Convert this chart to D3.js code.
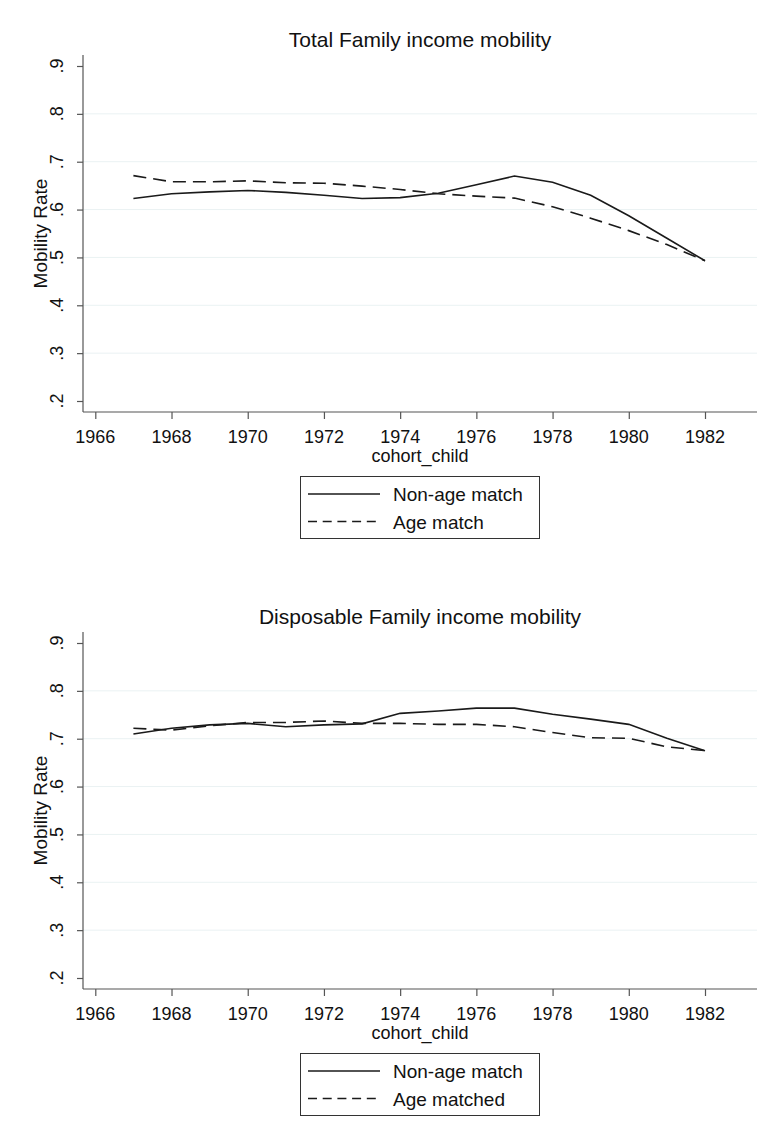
<!DOCTYPE html>
<html>
<head>
<meta charset="utf-8">
<script src="https://cdn.jsdelivr.net/npm/d3@7/dist/d3.min.js"></script>
<style>
  html, body { margin: 0; padding: 0; background: #fff; }
  svg { display: block; font-family: "Liberation Sans", Arial, sans-serif; }
</style>
</head>
<body>
<svg id="chart" width="764" height="1138"></svg>
<script>
// ---- Data ----
const years = [1967, 1968, 1969, 1970, 1971, 1972, 1973, 1974, 1975, 1976, 1977, 1978, 1979, 1980, 1981, 1982];
const totalNonAge = [0.623, 0.633, 0.637, 0.640, 0.636, 0.630, 0.623, 0.625, 0.634, 0.652, 0.670, 0.657, 0.630, 0.587, 0.540, 0.493];
const totalAge    = [0.671, 0.658, 0.658, 0.660, 0.656, 0.655, 0.649, 0.642, 0.633, 0.628, 0.624, 0.606, 0.582, 0.556, 0.527, 0.493];
const dispNonAge  = [0.710, 0.722, 0.729, 0.732, 0.725, 0.729, 0.731, 0.753, 0.758, 0.764, 0.764, 0.751, 0.741, 0.730, 0.701, 0.675];
const dispAge     = [0.722, 0.718, 0.727, 0.734, 0.734, 0.737, 0.732, 0.732, 0.730, 0.730, 0.725, 0.713, 0.702, 0.701, 0.683, 0.675];
const xTicks = [1966, 1968, 1970, 1972, 1974, 1976, 1978, 1980, 1982];
const yTicks = [0.2, 0.3, 0.4, 0.5, 0.6, 0.7, 0.8, 0.9];
const gridTicks = [0.3, 0.4, 0.5, 0.6, 0.7, 0.8];
const titles = ["Total Family income mobility", "Disposable Family income mobility"];
const legendTop = ["Non-age match", "Age match"];
const legendBottom = ["Non-age match", "Age matched"];
const yLabel = "Mobility Rate";
const xLabel = "cohort_child";

// ---- Drawing ----
const svg = d3.select("#chart");
const fmtY = v => d3.format(".1f")(v).replace(/^0/, "");

function panel(offY, title, solid, dashed, legendLabels) {
  const g = svg.append("g").attr("transform", `translate(0,${offY})`);
  const left = 83, right = 757, top = 55, bottom = 412;
  const x = d3.scaleLinear().domain([1966, 1982]).range([95.3, 705]);
  const y = d3.scaleLinear().domain([0.2, 0.9]).range([401, 66]);

  // gridlines
  g.append("g").selectAll("line").data(gridTicks).join("line")
    .attr("x1", left).attr("x2", right)
    .attr("y1", d => y(d)).attr("y2", d => y(d))
    .attr("stroke", "#eaf2f3").attr("stroke-width", 1);

  // y axis
  const ya = g.append("g").attr("transform", `translate(${left},0)`)
    .call(d3.axisLeft(y).tickValues(yTicks).tickSize(6).tickFormat(""));
  ya.select(".domain").attr("d", `M0,${top}V${bottom}`).attr("stroke", "#555").attr("stroke-width", 1.2);
  ya.selectAll(".tick line").attr("stroke", "#555").attr("stroke-width", 1.2);
  g.append("g").selectAll("text").data(yTicks).join("text")
    .attr("transform", d => `translate(63,${y(d)}) rotate(-90)`)
    .attr("text-anchor", "middle")
    .attr("font-size", 18).attr("fill", "#111")
    .text(fmtY);

  // x axis
  const xa = g.append("g").attr("transform", `translate(0,${bottom})`)
    .call(d3.axisBottom(x).tickValues(xTicks).tickSize(7).tickFormat(""));
  xa.select(".domain").attr("d", `M${left},0H${right}`).attr("stroke", "#555").attr("stroke-width", 1.2);
  xa.selectAll(".tick line").attr("stroke", "#555").attr("stroke-width", 1.2);
  g.append("g").selectAll("text").data(xTicks).join("text")
    .attr("x", d => x(d)).attr("y", 443)
    .attr("text-anchor", "middle")
    .attr("font-size", 18).attr("fill", "#111")
    .text(d => d);

  // axis titles
  g.append("text").attr("x", (left + right) / 2).attr("y", 462)
    .attr("text-anchor", "middle").attr("font-size", 18).attr("fill", "#111").text(xLabel);
  g.append("text").attr("transform", `translate(47,${(top + bottom) / 2}) rotate(-90)`)
    .attr("text-anchor", "middle").attr("font-size", 19).attr("fill", "#111").text(yLabel);

  // title
  g.append("text").attr("x", (left + right) / 2).attr("y", 47)
    .attr("text-anchor", "middle").attr("font-size", 21).attr("fill", "#111").text(title);

  // lines
  const line = d3.line().x((d, i) => x(years[i])).y(d => y(d));
  g.append("path").datum(solid).attr("d", line)
    .attr("fill", "none").attr("stroke", "#1a1a1a").attr("stroke-width", 1.6);
  g.append("path").datum(dashed).attr("d", line)
    .attr("fill", "none").attr("stroke", "#1a1a1a").attr("stroke-width", 1.6)
    .attr("stroke-dasharray", "13,7");

  // legend
  const lg = g.append("g");
  lg.append("rect").attr("x", 300.5).attr("y", 476.5).attr("width", 239).attr("height", 62)
    .attr("fill", "#fff").attr("stroke", "#333").attr("stroke-width", 1);
  const rows = [494, 521.5];
  lg.append("line").attr("x1", 308).attr("x2", 380).attr("y1", rows[0]).attr("y2", rows[0])
    .attr("stroke", "#1a1a1a").attr("stroke-width", 1.6);
  lg.append("line").attr("x1", 308).attr("x2", 380).attr("y1", rows[1]).attr("y2", rows[1])
    .attr("stroke", "#1a1a1a").attr("stroke-width", 1.6).attr("stroke-dasharray", "9,5.7");
  lg.selectAll("text.lt").data(legendLabels).join("text").attr("class", "lt")
    .attr("x", 393).attr("y", (d, i) => rows[i] + 7)
    .attr("font-size", 19).attr("fill", "#111").text(d => d);
}

panel(0, titles[0], totalNonAge, totalAge, legendTop);
panel(577, titles[1], dispNonAge, dispAge, legendBottom);
</script>
</body>
</html>
